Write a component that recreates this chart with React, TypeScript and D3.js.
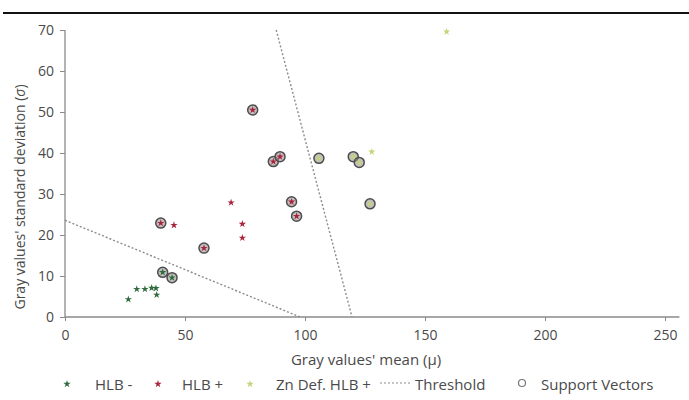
import React, { useEffect, useRef } from 'react';
import * as d3 from 'd3';

type Pt = [number, number];

// gray value mean / std dev per sample
const hlbNeg: Pt[] = [[26.4, 4.3], [29.9, 6.8], [33.3, 6.8], [36.1, 7.1], [37.9, 7.0], [38.2, 5.4], [40.7, 10.9], [44.6, 9.6]];
const hlbPos: Pt[] = [[39.9, 22.9], [45.4, 22.4], [57.9, 16.8], [69.2, 27.9], [73.9, 22.7], [73.9, 19.3], [78.2, 50.5], [86.8, 37.9], [89.6, 39.1], [94.4, 28.1], [96.5, 24.6]];
const znDef: Pt[] = [[105.8, 38.7], [120.1, 39.1], [122.6, 37.7], [127.8, 40.3], [127.1, 27.6], [159, 69.6]];
const supportVectors: Pt[] = [[40.7, 10.9], [44.6, 9.6], [39.9, 22.9], [57.9, 16.8], [78.2, 50.5], [86.8, 37.9], [89.6, 39.1], [94.4, 28.1], [96.5, 24.6], [105.8, 38.7], [120.1, 39.1], [122.6, 37.7], [127.1, 27.6]];
const threshold1: Pt[] = [[0, 23.6], [98, 0]];
const threshold2: Pt[] = [[88, 70], [119.6, 0]];
const xTicks = [0, 50, 100, 150, 200, 250];
const yTicks = [0, 10, 20, 30, 40, 50, 60, 70];
const legendLabels = ['HLB -', 'HLB +', 'Zn Def. HLB +', 'Threshold', 'Support Vectors'];

const W = 689, H = 400;
const FONT = '"Open Sans", Lato, sans-serif';
const TXT = '#4a4a4a';

export default function App() {
  const ref = useRef<SVGSVGElement>(null);

  useEffect(() => {
    const svg = d3.select(ref.current);
    svg.selectAll('*').remove();

    const x = d3.scaleLinear().domain([0, 256]).range([65, 679.4]);
    const y = d3.scaleLinear().domain([0, 70]).range([317, 30]);

    // top rule of the figure frame
    svg.append('line').attr('x1', 3).attr('x2', W).attr('y1', 13).attr('y2', 13)
      .attr('stroke', '#111').attr('stroke-width', 2);

    const xaxis = d3.axisBottom(x).tickValues(xTicks).tickSize(4).tickPadding(9);
    const yaxis = d3.axisLeft(y).tickValues(yTicks).tickSize(5).tickPadding(6);

    const gx = svg.append('g').attr('transform', 'translate(0,' + y(0) + ')').call(xaxis);
    const gy = svg.append('g').attr('transform', 'translate(' + x(0) + ',0)').call(yaxis);
    [gx, gy].forEach((g) => {
      g.select('.domain').attr('stroke', '#8a8a8a').attr('stroke-width', 1.3);
      g.selectAll('.tick line').attr('stroke', '#8a8a8a');
      g.selectAll('.tick text').attr('fill', TXT).attr('font-size', 14).attr('font-family', FONT);
    });
    gx.select('.domain').attr('d', 'M' + x(0) + ',0H' + x(256));
    gy.select('.domain').attr('d', 'M0,' + y(70) + 'V' + y(0));

    // thresholds
    const line = d3.line<Pt>().x((d) => x(d[0])).y((d) => y(d[1]));
    [threshold1, threshold2].forEach((t) => {
      svg.append('path').attr('d', line(t)).attr('fill', 'none')
        .attr('stroke', '#8c8c8c').attr('stroke-width', 1.4).attr('stroke-dasharray', '2,2');
    });

    // support vector rings
    svg.append('g').selectAll('circle').data(supportVectors).enter().append('circle')
      .attr('cx', (d) => x(d[0])).attr('cy', (d) => y(d[1])).attr('r', 5)
      .attr('fill', '#9c9494').attr('fill-opacity', 0.6)
      .attr('stroke', '#4d4d4d').attr('stroke-width', 1.5);

    const star = d3.symbol().type(d3.symbolStar).size(17);
    const series: [Pt[], string][] = [[hlbNeg, '#2f6b3c'], [hlbPos, '#a8233b'], [znDef, '#c4d47a']];
    series.forEach(([data, color]) => {
      svg.append('g').selectAll('path').data(data).enter().append('path')
        .attr('d', star()).attr('fill', color)
        .attr('transform', (d) => 'translate(' + x(d[0]) + ',' + y(d[1]) + ')');
    });

    // axis titles
    svg.append('text').attr('x', 366).attr('y', 365).attr('text-anchor', 'middle')
      .attr('fill', TXT).attr('font-size', 15).attr('font-family', FONT)
      .text("Gray values' mean (\u00b5)");
    const yl = svg.append('text').attr('transform', 'translate(25,197) rotate(-90)')
      .attr('text-anchor', 'middle').attr('fill', TXT).attr('font-size', 14).attr('font-family', FONT);
    yl.append('tspan').text("Gray values' standard deviation (");
    yl.append('tspan').attr('font-style', 'italic').text('\u03c3');
    yl.append('tspan').text(')');

    // legend
    const ly = 390;
    const lx = [67, 158, 250, 380, 522];
    const tx = [95, 182, 276, 415, 541];
    series.forEach(([, color], i) => {
      svg.append('path').attr('d', star()).attr('fill', color)
        .attr('transform', 'translate(' + lx[i] + ',' + (ly - 6) + ')');
    });
    svg.append('line').attr('x1', lx[3]).attr('x2', lx[3] + 30).attr('y1', ly - 7).attr('y2', ly - 7)
      .attr('stroke', '#8c8c8c').attr('stroke-width', 1.2).attr('stroke-dasharray', '2,2');
    svg.append('circle').attr('cx', lx[4]).attr('cy', ly - 7).attr('r', 3.5)
      .attr('fill', 'none').attr('stroke', '#777').attr('stroke-width', 1.2);
    legendLabels.forEach((l, i) => {
      svg.append('text').attr('x', tx[i]).attr('y', ly).attr('fill', TXT)
        .attr('font-size', 15).attr('font-family', FONT).text(l);
    });
  }, []);

  return (
    <svg ref={ref} width={W} height={H}
      style={{ position: 'absolute', left: 0, top: 0, background: '#fff' }} />
  );
}
